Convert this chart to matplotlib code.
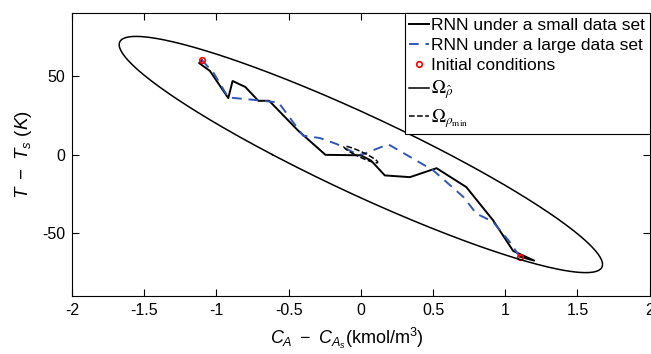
import numpy as np
import matplotlib
matplotlib.use("Agg")
import matplotlib.pyplot as plt

plt.rcParams['font.family'] = ['Liberation Sans', 'DejaVu Sans']
plt.rcParams['mathtext.fontset'] = 'custom'
plt.rcParams['mathtext.rm'] = 'Liberation Sans'
plt.rcParams['mathtext.it'] = 'Liberation Sans:italic'
plt.rcParams['axes.unicode_minus'] = False

# trajectories
small_1_x = [-1.10, -1.12, -1.045, -0.918, -0.888, -0.80, -0.71, -0.635, -0.434, -0.245, 0.0]
small_1_y = [60.0, 58.2, 53.2, 35.9, 46.8, 43.0, 34.2, 34.2, 15.2, -0.2, -0.5]
small_2_x = [1.10, 1.20, 1.055, 0.915, 0.73, 0.524, 0.34, 0.166, 0.07, 0.0]
small_2_y = [-65.0, -67.5, -61.4, -41.8, -20.7, -8.7, -14.4, -13.3, -3.8, -0.5]

large_1_x = [-1.10, -1.02, -0.918, -0.72, -0.57, -0.40, -0.284, -0.168, -0.03, 0.0]
large_1_y = [60.0, 52.0, 36.3, 34.6, 33.1, 12.0, 10.5, 6.7, 0.4, 0.0]
large_2_x = [1.10, 1.03, 0.915, 0.80, 0.71, 0.50, 0.19, 0.02, 0.0]
large_2_y = [-65.0, -55.5, -42.8, -37.6, -27.0, -10.0, 6.5, 0.4, 0.0]

init_x = [-1.10, 1.10]
init_y = [60.0, -65.0]

# stability region shape (covariance-like matrix of the ellipse)
ellipse_S = [[2.80, -117.0], [-117.0, 5650.0]]
rho_min_scale = 0.07

x_ticks = [-2, -1.5, -1, -0.5, 0, 0.5, 1, 1.5, 2]
x_ticklabels = ['-2', '-1.5', '-1', '-0.5', '0', '0.5', '1', '1.5', '2']
y_ticks = [-50, 0, 50]


def ellipse_pts(S, scale=1.0, n=400):
    w, v = np.linalg.eigh(np.array(S))
    t = np.linspace(0, 2 * np.pi, n)
    u = np.vstack([np.cos(t), np.sin(t)])
    pts = v @ (np.sqrt(w)[:, None] * u) * scale
    return pts[0], pts[1]


fig = plt.figure(figsize=(6.51, 3.54), dpi=100)
ax = fig.add_axes([0.1106, 0.164, 0.8874, 0.799])

blue = '#3355b8'
ax.plot(small_1_x, small_1_y, color='black', lw=1.4, label='RNN under a small data set')
ax.plot(small_2_x, small_2_y, color='black', lw=1.4)
ax.plot(large_1_x, large_1_y, color=blue, lw=1.4, dashes=(5, 3.5), label='RNN under a large data set')
ax.plot(large_2_x, large_2_y, color=blue, lw=1.4, dashes=(5, 3.5))
ax.plot(init_x, init_y, 'o', ms=4, mfc='none', mec='red', mew=1.2, label='Initial conditions')

ex, ey = ellipse_pts(ellipse_S)
ax.plot(ex, ey, color='black', lw=1.1, label=r'$\Omega_{\hat{\rho}}$')
sx, sy = ellipse_pts(ellipse_S, rho_min_scale)
ax.plot(sx, sy, color='black', lw=1.1, ls='--', label=r'$\Omega_{\rho_{\mathrm{min}}}$')

ax.set_xlim(-2, 2)
ax.set_ylim(-90, 90)
ax.set_xticks(x_ticks)
ax.set_xticklabels(x_ticklabels)
ax.set_yticks(y_ticks)
ax.tick_params(direction='in', top=True, right=True, length=5, width=0.8, labelsize=11.5, pad=5)
for s in ax.spines.values():
    s.set_linewidth(0.8)

ax.set_xlabel(r'$C_A\ -\ C_{A_s}$(kmol/m$^3$)', fontsize=13)
ax.xaxis.set_label_coords(0.476, -0.105)
ax.set_ylabel(r'$T\ -\ T_s\ (K)$', fontsize=13.5, labelpad=6)

leg = ax.legend(loc='upper right', bbox_to_anchor=(1.0, 1.0), borderaxespad=0,
                frameon=True, fancybox=False, edgecolor='black', framealpha=1,
                fontsize=12.5, handlelength=1.15, handletextpad=0.15,
                labelspacing=0.3, borderpad=0.25)
leg.get_frame().set_linewidth(0.8)
for t in leg.get_texts()[3:]:
    t.set_math_fontfamily('stix')
    t.set_fontsize(13.5)

fig.savefig('out.png', dpi=100)
